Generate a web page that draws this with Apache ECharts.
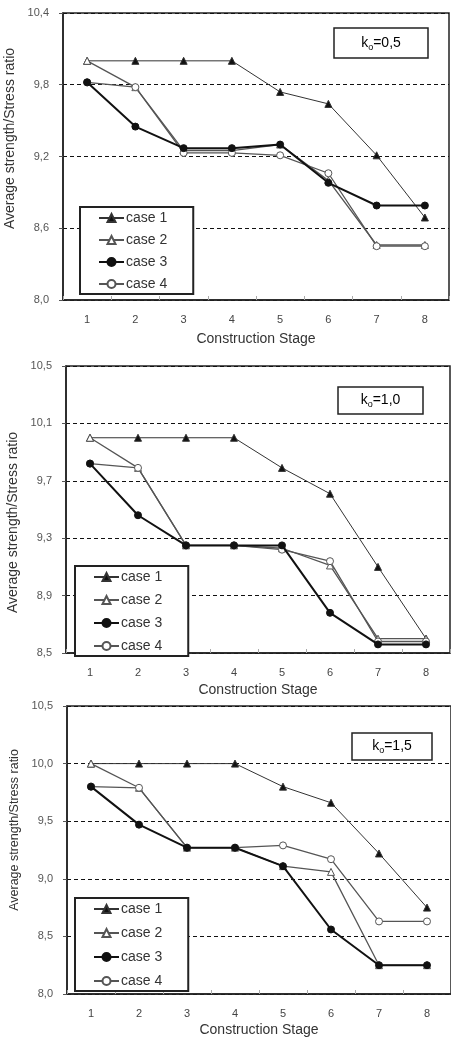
<!DOCTYPE html>
<html><head><meta charset="utf-8">
<script src="https://cdn.jsdelivr.net/npm/echarts@6/dist/echarts.min.js"></script>
<style>html,body{margin:0;padding:0;background:#fff}#c{width:451px;height:1039px}</style>
</head><body><div id="c"></div>
<script>
const stages = ['1','2','3','4','5','6','7','8'];
const caseNames = ['case 1','case 2','case 3','case 4'];

// k0 = 0,5
const k05Ticks = [8.0, 8.6, 9.2, 9.8, 10.4];
const k05Case1 = [10.0, 10.0, 10.0, 10.0, 9.74, 9.64, 9.21, 8.69];
const k05Case2 = [10.0, 9.78, 9.25, 9.25, 9.30, 9.00, 8.46, 8.46];
const k05Case3 = [9.82, 9.45, 9.27, 9.27, 9.30, 8.98, 8.79, 8.79];
const k05Case4 = [9.82, 9.78, 9.23, 9.23, 9.21, 9.06, 8.45, 8.45];

// k0 = 1,0
const k10Ticks = [8.5, 8.9, 9.3, 9.7, 10.1, 10.5];
const k10Case1 = [10.0, 10.0, 10.0, 10.0, 9.79, 9.61, 9.10, 8.60];
const k10Case2 = [10.0, 9.79, 9.25, 9.25, 9.23, 9.11, 8.60, 8.60];
const k10Case3 = [9.82, 9.46, 9.25, 9.25, 9.25, 8.78, 8.56, 8.56];
const k10Case4 = [9.82, 9.79, 9.25, 9.25, 9.22, 9.14, 8.58, 8.58];

// k0 = 1,5
const k15Ticks = [8.0, 8.5, 9.0, 9.5, 10.0, 10.5];
const k15Case1 = [10.0, 10.0, 10.0, 10.0, 9.80, 9.66, 9.22, 8.75];
const k15Case2 = [10.0, 9.79, 9.27, 9.27, 9.11, 9.06, 8.25, 8.25];
const k15Case3 = [9.80, 9.47, 9.27, 9.27, 9.11, 8.56, 8.25, 8.25];
const k15Case4 = [9.80, 9.79, 9.27, 9.27, 9.29, 9.17, 8.63, 8.63];

const panelLabels = ['0,5', '1,0', '1,5'];
const xTitle = 'Construction Stage';
const yTitle = 'Average strength/Stress ratio';

const panels = [
  {ticks: k05Ticks, data: [k05Case1, k05Case2, k05Case3, k05Case4]},
  {ticks: k10Ticks, data: [k10Case1, k10Case2, k10Case3, k10Case4]},
  {ticks: k15Ticks, data: [k15Case1, k15Case2, k15Case3, k15Case4]}
];

const FONT = '"Liberation Sans", Arial, sans-serif';
const layout = [
  {grid: {left: 63, top: 13, width: 386, height: 287}, nameGap: 32, yNameGap: 33,
   yNameSize: 14, yNamePad: [0, 0, 0, 36],
   legend: {left: 80, top: 207, itemGap: 8}, box: {x: 334, y: 28, w: 94, h: 30}},
  {grid: {left: 66, top: 366, width: 384, height: 287}, nameGap: 30, yNameGap: 38,
   yNameSize: 14, yNamePad: [0, 26, 0, 0],
   legend: {left: 75, top: 566, itemGap: 9}, box: {x: 338, y: 387, w: 85, h: 27}},
  {grid: {left: 67, top: 706, width: 384, height: 288}, nameGap: 29, yNameGap: 46,
   yNameSize: 12.5, yNamePad: [0, 0, 0, 40],
   legend: {left: 75, top: 898, itemGap: 10}, box: {x: 352, y: 733, w: 80, h: 27}}
];

const seriesStyles = [
  {color: '#333', width: 1, symbol: 'triangle', size: 7, fill: '#111'},
  {color: '#555', width: 1.3, symbol: 'triangle', size: 7, fill: '#fff'},
  {color: '#111', width: 2, symbol: 'circle', size: 7, fill: '#111'},
  {color: '#555', width: 1.3, symbol: 'circle', size: 7, fill: '#fff'}
];

const grids = [], xAxes = [], yAxes = [], series = [], legends = [], graphics = [];
panels.forEach((p, i) => {
  const L = layout[i];
  grids.push(Object.assign({show: true, borderColor: '#222', borderWidth: 1.5, backgroundColor: '#fff',
    containLabel: false, outerBoundsMode: 'none'}, L.grid));
  xAxes.push({
    type: 'category', gridIndex: i, data: stages, boundaryGap: true,
    name: xTitle, nameLocation: 'middle', nameGap: L.nameGap,
    nameTextStyle: {fontFamily: FONT, fontSize: 14, color: '#333'},
    axisLine: {lineStyle: {color: '#222', width: 1.5}},
    axisTick: {show: true, inside: true, length: 4, lineStyle: {color: '#aaa'}},
    axisLabel: {fontFamily: FONT, fontSize: 11, color: '#444', margin: 14},
    splitLine: {show: false}
  });
  const t = p.ticks;
  yAxes.push({
    type: 'value', gridIndex: i, min: t[0], max: t[t.length - 1],
    interval: +(t[1] - t[0]).toFixed(2),
    name: yTitle, nameLocation: 'middle', nameRotate: 90, nameGap: L.yNameGap,
    nameTextStyle: {fontFamily: FONT, fontSize: L.yNameSize, color: '#333', padding: L.yNamePad},
    axisLine: {show: true, lineStyle: {color: '#222', width: 1.5}},
    axisTick: {show: true, length: 4, lineStyle: {color: '#555'}},
    axisLabel: {fontFamily: FONT, fontSize: 11, color: '#555', margin: 14,
      formatter: v => v.toFixed(1).replace('.', ',')},
    splitLine: {show: true, lineStyle: {color: '#111', type: [4, 3], width: 1.2}}
  });
  p.data.forEach((d, j) => {
    const s = seriesStyles[j];
    series.push({
      type: 'line', name: caseNames[j], xAxisIndex: i, yAxisIndex: i, data: d,
      symbol: s.symbol, symbolSize: s.size, showAllSymbol: true,
      lineStyle: {color: s.color, width: s.width},
      itemStyle: {color: s.fill, borderColor: s.color, borderWidth: 1},
      z: j === 2 ? 4 : 3, animation: false
    });
  });
  legends.push({
    orient: 'vertical', left: L.legend.left, top: L.legend.top,
    data: caseNames, itemWidth: 25, itemHeight: 10, itemGap: L.legend.itemGap,
    padding: [4, 26, 3, 18], borderColor: '#222', borderWidth: 2,
    backgroundColor: '#fff', selectedMode: false,
    textStyle: {fontFamily: FONT, fontSize: 14, color: '#333', padding: [0, 0, 0, -3]}
  });
  const b = L.box;
  graphics.push({
    type: 'rect', shape: {x: b.x, y: b.y, width: b.w, height: b.h},
    style: {fill: '#fff', stroke: '#222', lineWidth: 1.5}, z: 100
  });
  graphics.push({
    type: 'text', x: b.x + b.w / 2, y: b.y + b.h / 2, z: 101,
    style: {
      text: '{k|k}{s|o}{k|=' + panelLabels[i] + '}',
      align: 'center', verticalAlign: 'middle',
      rich: {
        k: {fontFamily: FONT, fontSize: 14, color: '#333', lineHeight: 18, verticalAlign: 'middle'},
        s: {fontFamily: FONT, fontSize: 9, color: '#333', lineHeight: 18, verticalAlign: 'bottom', padding: [6, 0, 0, 0]}
      }
    }
  });
});

const chart = echarts.init(document.getElementById('c'), null, {renderer: 'canvas'});
chart.setOption({
  animation: false,
  grid: grids, xAxis: xAxes, yAxis: yAxes, series: series,
  legend: legends, graphic: graphics
});
</script></body></html>
